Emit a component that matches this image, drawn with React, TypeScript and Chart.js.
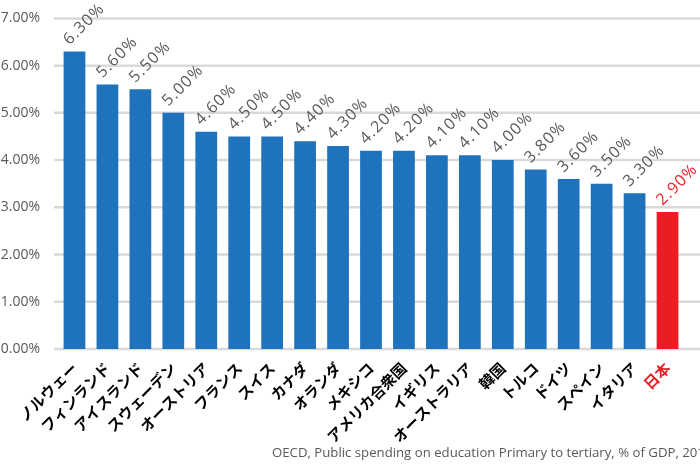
import React, { useEffect, useRef } from "react";
import { Chart, registerables } from "chart.js";

Chart.register(...registerables);

const countries: string[] = [
  "ノルウェー", "フィンランド", "アイスランド", "スウェーデン", "オーストリア",
  "フランス", "スイス", "カナダ", "オランダ", "メキシコ",
  "アメリカ合衆国", "イギリス", "オーストラリア", "韓国", "トルコ",
  "ドイツ", "スペイン", "イタリア", "日本",
];
const spending: number[] = [
  6.3, 5.6, 5.5, 5.0, 4.6, 4.5, 4.5, 4.4, 4.3, 4.2, 4.2, 4.1, 4.1, 4.0, 3.8, 3.6, 3.5, 3.3, 2.9,
];
const yTicks: number[] = [0, 1, 2, 3, 4, 5, 6, 7];
const highlight = "日本";
const caption = "OECD, Public spending on education Primary to tertiary, % of GDP, 2016";

const BLUE = "#1f73bd";
const RED = "#ec1c24";
const GRAY = "#595959";
const LATIN = "'Open Sans', 'Noto Sans', sans-serif";

export default function App() {
  const ref = useRef<HTMLCanvasElement | null>(null);
  useEffect(() => {
    if (!ref.current) return;
    const colors = countries.map((c) => (c === highlight ? RED : BLUE));

    const gridPlugin = {
      id: "customGrid",
      beforeDatasetsDraw(chart: any) {
        const { ctx, scales } = chart;
        const y = scales.y;
        ctx.save();
        ctx.strokeStyle = "#d9d9d9";
        ctx.lineWidth = 2.5;
        yTicks.forEach((t) => {
          const py = y.getPixelForValue(t);
          ctx.beginPath();
          ctx.moveTo(54, py);
          ctx.lineTo(chart.width, py);
          ctx.stroke();
        });
        ctx.restore();
      },
    };

    const labelPlugin = {
      id: "barLabels",
      afterDatasetsDraw(chart: any) {
        const { ctx } = chart;
        const meta = chart.getDatasetMeta(0);
        ctx.save();
        ctx.font = `16px ${LATIN}`;
        (ctx as any).letterSpacing = "1.2px";
        ctx.textAlign = "left";
        ctx.textBaseline = "alphabetic";
        meta.data.forEach((bar: any, i: number) => {
          ctx.save();
          ctx.translate(bar.x - 5, bar.y - 6);
          ctx.rotate(-Math.PI / 4);
          ctx.fillStyle = countries[i] === highlight ? RED : GRAY;
          ctx.fillText(spending[i].toFixed(2) + "%", 0, 0);
          ctx.restore();
        });
        ctx.restore();
      },
      afterDraw(chart: any) {
        const { ctx } = chart;
        ctx.save();
        ctx.font = `13.2px ${LATIN}`;
        ctx.fillStyle = GRAY;
        ctx.textAlign = "left";
        ctx.textBaseline = "alphabetic";
        ctx.fillText(caption, 272, 457);
        ctx.restore();
      },
    };

    const chart = new Chart(ref.current, {
      type: "bar",
      data: {
        labels: countries,
        datasets: [
          {
            data: spending,
            backgroundColor: colors,
            barPercentage: 0.66,
            categoryPercentage: 1,
          },
        ],
      },
      options: {
        responsive: false,
        animation: false,
        layout: { padding: { top: 18, right: 16, left: 0, bottom: 0 } },
        plugins: { legend: { display: false }, tooltip: { enabled: false } },
        scales: {
          x: {
            grid: { display: false },
            border: { display: false },
            afterFit: (s: any) => {
              s.height = 117;
            },
            ticks: {
              autoSkip: false,
              maxRotation: 45,
              minRotation: 45,
              padding: 2,
              font: { family: "'Noto Sans CJK JP', sans-serif", size: 15, weight: "bold" },
              color: (c: any) => (countries[c.index] === highlight ? RED : "#000000"),
            },
          },
          y: {
            min: 0,
            max: 7,
            grid: { display: false },
            border: { display: false },
            afterFit: (s: any) => {
              s.width = 58;
            },
            afterBuildTicks: (s: any) => {
              s.ticks = yTicks.map((v) => ({ value: v }));
            },
            ticks: {
              padding: 10,
              font: { family: LATIN, size: 14 },
              color: GRAY,
              callback: (v: any) => Number(v).toFixed(2) + "%",
            },
          },
        },
      },
      plugins: [gridPlugin, labelPlugin],
    });
    return () => chart.destroy();
  }, []);

  return (
    <div style={{ position: "absolute", left: 0, top: 0, width: 700, height: 466, background: "#fff" }}>
      <canvas ref={ref} width={700} height={466} style={{ display: "block" }} />
    </div>
  );
}
